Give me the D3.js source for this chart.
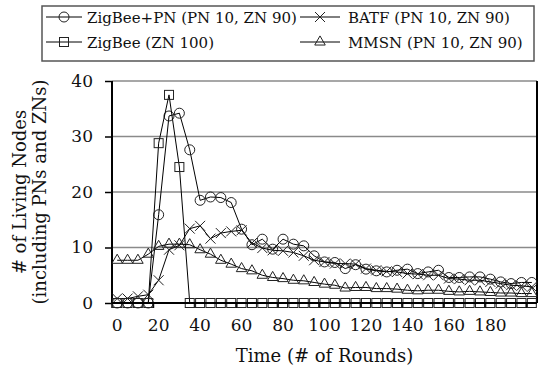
<!DOCTYPE html>
<html><head><meta charset="utf-8">
<script src="https://cdn.jsdelivr.net/npm/d3@7/dist/d3.min.js"></script>
<style>
html,body{margin:0;padding:0;background:#fff;}
svg{display:block;font-family:"DejaVu Serif",serif;}
</style></head>
<body><svg id="c" width="543" height="369"></svg>
<script>
const rounds = [0,5,10,15,20,25,30,35,40,45,50,55,60,65,70,75,80,85,90,95,100,105,110,115,120,125,130,135,140,145,150,155,160,165,170,175,180,185,190,195,200];
const xLabels = [0,20,40,60,80,100,120,140,160,180];
const xTickMarks = [0,20,40,60,80,100,120,140,160,180,200];
const yTicks = [0,10,20,30,40];
const zigbeePN = [0,0,0,0,15.9,33.7,34.2,27.6,18.5,19.1,19.0,18.1,13.3,10.5,11.5,9.7,11.5,10.6,10.3,8.5,7.4,7.3,6.2,6.9,6.1,5.8,5.6,5.9,6.1,5.3,5.6,5.9,4.6,4.6,4.7,4.7,4.3,3.8,3.5,3.7,3.7];
const batf = [0.8,0.8,1.2,1.5,4.1,9.6,10.4,13.4,13.9,11.6,12.6,12.9,13.1,10.8,9.9,9.5,9.4,9.1,8.5,7.7,7.4,7.1,7.1,7.0,6.2,5.9,5.7,5.6,5.3,5.2,5.0,5.0,4.4,4.3,4.1,4.1,3.8,3.5,3.2,3.1,2.9];
const zigbee = [0,0,0,0,28.8,37.5,24.5,0,0,0,0,0,0,0,0,0,0,0,0,0,0,0,0,0,0,0,0,0,0,0,0,0,0,0,0,0,0,0,0,0,0];
const mmsn = [7.7,7.7,7.7,8.8,10.2,10.6,10.6,10.5,9.6,8.8,7.7,7.0,6.2,5.8,5.0,4.6,4.4,4.1,4.0,3.7,3.4,3.2,2.7,2.8,2.8,2.6,2.6,2.5,2.3,2.2,2.3,2.3,2.1,2.0,2.1,2.0,1.9,1.8,1.8,1.7,1.7];
const seriesNames = ["ZigBee+PN (PN 10, ZN 90)","BATF (PN 10, ZN 90)","ZigBee (ZN 100)","MMSN (PN 10, ZN 90)"];
const seriesMarkers = ["circle","cross","square","triangle"];
const seriesValues = [zigbeePN, batf, zigbee, mmsn];

const svg = d3.select("#c");
const L=112, R=537, T=81, B=303;
const x = d3.scaleBand().domain(rounds).range([L,R]).padding(0);
const cx = v => x(v) + x.bandwidth()/2;
const y = d3.scaleLinear().domain([0,40]).range([B,T]);

// gridlines
svg.append("g").selectAll("line").data(yTicks.filter(d=>d>0)).join("line")
  .attr("x1",L).attr("x2",R).attr("y1",d=>y(d)).attr("y2",d=>y(d))
  .attr("stroke","#8a8a8a").attr("stroke-width",1.5);

// right border
svg.append("line").attr("x1",R).attr("x2",R).attr("y1",y(40)).attr("y2",y(0))
  .attr("stroke","#000").attr("stroke-width",2);

// y axis
const ya = svg.append("g").attr("transform",`translate(${L},0)`)
  .call(d3.axisLeft(y).tickValues(yTicks).tickSize(7).tickPadding(12));
ya.select(".domain").attr("stroke","#000").attr("stroke-width",2).attr("d",`M0,${T}V${B}`);
ya.selectAll(".tick line").attr("stroke","#000").attr("stroke-width",1.5);
ya.selectAll("text").attr("font-size",17).attr("font-family","DejaVu Serif").attr("fill","#111");

// x axis labels
const xa = svg.append("g").attr("transform",`translate(0,${B})`)
  .call(d3.axisBottom(x).tickValues(xLabels).tickSize(0).tickPadding(16));
xa.select(".domain").remove();
xa.selectAll("text").attr("font-size",17).attr("font-family","DejaVu Serif").attr("fill","#111");
// x tick marks at category boundaries
svg.append("g").selectAll("line").data(xTickMarks).join("line")
  .attr("x1",d=>x(d)).attr("x2",d=>x(d)).attr("y1",B).attr("y2",B+5)
  .attr("stroke","#000").attr("stroke-width",1.5);

function marker(g, type, px, py){
  const c="#222";
  if(type==="circle") g.append("circle").attr("cx",px).attr("cy",py).attr("r",5).attr("fill","none").attr("stroke",c).attr("stroke-width",1);
  else if(type==="square") g.append("rect").attr("x",px-4.5).attr("y",py-4.5).attr("width",9).attr("height",9).attr("fill","none").attr("stroke",c).attr("stroke-width",1);
  else if(type==="triangle") g.append("path").attr("transform",`translate(${px},${py})`).attr("d",d3.symbol(d3.symbolTriangle,48)()).attr("fill","none").attr("stroke",c).attr("stroke-width",1);
  else g.append("path").attr("d",`M${px-5},${py-5}L${px+5},${py+5}M${px-5},${py+5}L${px+5},${py-5}`).attr("fill","none").attr("stroke",c).attr("stroke-width",1);
}

const line = d3.line().x((d,i)=>cx(rounds[i])).y(d=>y(d));
seriesValues.forEach((vals,si)=>{
  const g = svg.append("g");
  g.append("path").attr("d",line(vals)).attr("fill","none").attr("stroke","#000").attr("stroke-width",1);
  vals.forEach((v,i)=>marker(g, seriesMarkers[si], cx(rounds[i]), y(v)));
});

// x axis line on top
svg.append("line").attr("x1",L).attr("x2",R).attr("y1",y(0)).attr("y2",y(0)).attr("stroke","#000").attr("stroke-width",2);

// legend
const lg = svg.append("g");
lg.append("rect").attr("x",42).attr("y",6).attr("width",492).attr("height",55).attr("fill","#fff").attr("stroke","#555").attr("stroke-width",1.5);
const legPos = [[46,17],[300,17],[46,42],[300,42]];
seriesNames.forEach((n,i)=>{
  const [lx,ly]=legPos[i];
  const w = i%2===0 ? 36 : 40;
  lg.append("line").attr("x1",lx).attr("x2",lx+w).attr("y1",ly).attr("y2",ly).attr("stroke","#000").attr("stroke-width",1);
  marker(lg, seriesMarkers[i], lx+w/2, ly);
  lg.append("text").attr("x",lx+w+(i%2===0?5:8)).attr("y",ly+5.5).attr("font-size",15).attr("fill","#111").text(n);
});

// titles
svg.append("text").attr("x",(L+R)/2).attr("y",362).attr("text-anchor","middle").attr("font-size",18).attr("fill","#111").text("Time (# of Rounds)");
const yt = svg.append("text").attr("transform",`translate(26,${(T+B)/2}) rotate(-90)`).attr("text-anchor","middle").attr("font-size",18).attr("fill","#111");
yt.append("tspan").attr("x",0).attr("y",0).text("# of Living Nodes");
yt.append("tspan").attr("x",0).attr("y",20).text("(including PNs and ZNs)");
</script></body></html>
